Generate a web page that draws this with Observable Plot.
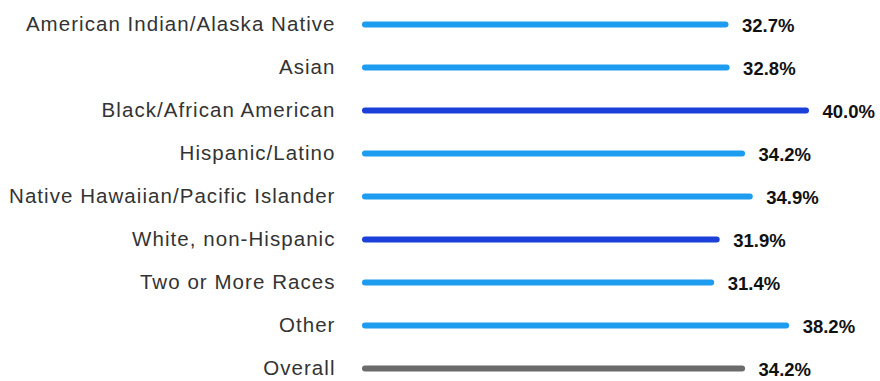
<!DOCTYPE html>
<html>
<head>
<meta charset="utf-8">
<script src="https://cdn.jsdelivr.net/npm/d3@7"></script>
<script src="https://cdn.jsdelivr.net/npm/@observablehq/plot@0.6"></script>
<style>
  html, body { margin: 0; padding: 0; background: #fff; }
  #chart svg { display: block; }
</style>
</head>
<body>
<div id="chart"></div>
<script>
const categories = [
  "American Indian/Alaska Native",
  "Asian",
  "Black/African American",
  "Hispanic/Latino",
  "Native Hawaiian/Pacific Islander",
  "White, non-Hispanic",
  "Two or More Races",
  "Other",
  "Overall"
];
const values = [32.7, 32.8, 40.0, 34.2, 34.9, 31.9, 31.4, 38.2, 34.2];
const groups = ["light", "light", "dark", "light", "light", "dark", "light", "light", "overall"];
const groupNames = ["light", "dark", "overall"];
const groupColors = ["#1e9cf0", "#1b3fd9", "#6b6b6b"];

const data = categories.map((c, i) => ({category: c, value: values[i], group: groups[i]}));

const chart = Plot.plot({
  width: 880,
  height: 381,
  marginLeft: 365,
  marginRight: 74,
  marginTop: 23,
  marginBottom: 13,
  style: {fontFamily: "Arial, 'Liberation Sans', sans-serif", background: "#fff"},
  x: {domain: [0, 40], axis: null},
  y: {domain: categories, padding: 0, label: null, type: "point"},
  color: {domain: groupNames, range: groupColors},
  marks: [
    Plot.axisY({tickSize: 0, tickPadding: 30, fontSize: 20.5, fill: "#333", label: null}),
    Plot.ruleY(data, {y: "category", x1: 0, x2: "value", stroke: "group", strokeWidth: 6, strokeLinecap: "round"}),
    Plot.text(data, {y: "category", x: "value", text: d => d.value.toFixed(1) + "%", dx: 16, dy: 2, textAnchor: "start", fontSize: 18.5, fontWeight: "bold", fill: "#111"})
  ]
});
document.getElementById("chart").appendChild(chart);
d3.select(chart).selectAll("[aria-label='y-axis tick label'] text").style("letter-spacing", "1.05px");
</script>
</body>
</html>
